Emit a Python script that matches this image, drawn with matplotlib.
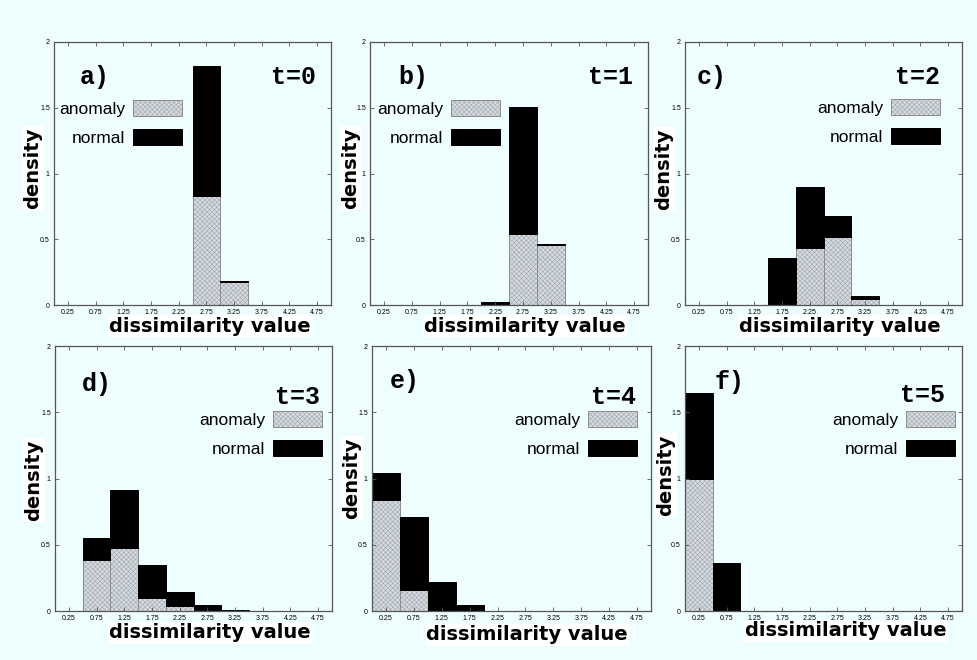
import matplotlib
matplotlib.use("Agg")
import matplotlib.pyplot as plt
from matplotlib import font_manager

# bin centres of the histograms (bin width 0.5)
bins = [0.25, 0.75, 1.25, 1.75, 2.25, 2.75, 3.25, 3.75, 4.25, 4.75]
bin_labels = ["0.25", "0.75", "1.25", "1.75", "2.25", "2.75", "3.25", "3.75", "4.25", "4.75"]
y_ticks = [0, 0.5, 1, 1.5, 2]
y_labels = ["0", "0.5", "1", "1.5", "2"]

panels = ["a)", "b)", "c)", "d)", "e)", "f)"]
times = ["t=0", "t=1", "t=2", "t=3", "t=4", "t=5"]

# anomaly part (bottom) and normal part (stacked on top) per time step
anomaly_t0 = [0, 0, 0, 0, 0, 0.83, 0.175, 0, 0, 0]
normal_t0 = [0, 0, 0, 0, 0, 0.99, 0.005, 0, 0, 0]
anomaly_t1 = [0, 0, 0, 0, 0, 0.54, 0.46, 0, 0, 0]
normal_t1 = [0, 0, 0, 0, 0.02, 0.965, 0.004, 0, 0, 0]
anomaly_t2 = [0, 0, 0, 0, 0.435, 0.52, 0.045, 0, 0, 0]
normal_t2 = [0, 0, 0.003, 0.355, 0.465, 0.16, 0.025, 0, 0, 0]
anomaly_t3 = [0, 0.385, 0.475, 0.095, 0.035, 0.005, 0, 0, 0, 0]
normal_t3 = [0, 0.165, 0.435, 0.255, 0.105, 0.04, 0.005, 0, 0, 0]
anomaly_t4 = [0.84, 0.16, 0, 0, 0, 0, 0, 0, 0, 0]
normal_t4 = [0.2, 0.55, 0.22, 0.045, 0, 0, 0, 0, 0, 0]
anomaly_t5 = [1.0, 0, 0, 0, 0, 0, 0, 0, 0, 0]
normal_t5 = [0.645, 0.36, 0, 0, 0, 0, 0, 0, 0, 0]

anomaly = [anomaly_t0, anomaly_t1, anomaly_t2, anomaly_t3, anomaly_t4, anomaly_t5]
normal = [normal_t0, normal_t1, normal_t2, normal_t3, normal_t4, normal_t5]

# layout, in pixels of the 977x660 picture
W, H = 977, 660
BG = "#eefefe"
boxes = [(54, 42, 331, 305), (370, 42, 648, 305), (685, 42, 962, 305),
         (55, 346, 332, 611), (372, 346, 651, 611), (685, 346, 962, 611)]
letter_pos = [(80, 77), (398, 77), (697, 77), (82, 384), (390, 381), (715, 382)]
time_pos = [(316, 77), (633, 77), (940, 77), (320, 397), (636, 397), (945, 395)]
legend_pos = [(182, 100), (500, 100), (940, 99), (322, 411), (637, 411), (955, 411)]
ylab_pos = [(33, 168), (351, 168), (664, 169), (34, 480), (352, 478), (666, 475)]
xlab_pos = [(210, 326), (525, 326), (840, 326), (210, 633), (527, 635), (846, 631)]

names = {f.name for f in font_manager.fontManager.ttflist}
narrow = "Liberation Sans Narrow" if "Liberation Sans Narrow" in names else "Liberation Sans"

plt.rcParams["hatch.linewidth"] = 0.25
plt.rcParams["hatch.color"] = "#a0a8b0"

fig = plt.figure(figsize=(W / 100, H / 100), dpi=100, facecolor=BG)


def to_axes(box, x, y):
    l, t, r, b = box
    return (x - l) / (r - l), (b - y) / (b - t)


for i in range(6):
    l, t, r, b = boxes[i]
    ax = fig.add_axes([l / W, 1 - b / H, (r - l) / W, (b - t) / H])
    ax.set_facecolor(BG)

    an = ax.bar(bins, anomaly[i], width=0.5, color="#d3dae2", edgecolor="#8c8c8c",
                linewidth=0.7, hatch="xxxxxxx", label="anomaly")
    no = ax.bar(bins, normal[i], width=0.5, bottom=anomaly[i], color="black",
                edgecolor="black", linewidth=0.7, label="normal")

    ax.set_xlim(0, 5)
    ax.set_ylim(0, 2)
    ax.set_xticks(bins)
    ax.set_xticklabels(bin_labels, fontsize=5, family=narrow)
    ax.set_yticks(y_ticks)
    ax.set_yticklabels(y_labels, fontsize=5, family=narrow)
    ax.tick_params(direction="in", length=3, width=0.6, color="#555555",
                   top=True, right=True, pad=3)
    for s in ax.spines.values():
        s.set_color("#555555")
        s.set_linewidth(0.9)

    ax.set_ylabel("density", fontsize=14, fontweight="bold", family="DejaVu Sans",
                  va="center", ha="center",
                  bbox=dict(facecolor="white", edgecolor="none", pad=1))
    ax.yaxis.set_label_coords(*to_axes(boxes[i], *ylab_pos[i]))
    ax.set_xlabel("dissimilarity value", fontsize=14, fontweight="bold",
                  family="DejaVu Sans", va="center", ha="center",
                  bbox=dict(facecolor="white", edgecolor="none", pad=1))
    ax.xaxis.set_label_coords(*to_axes(boxes[i], *xlab_pos[i]))

    ax.text(*to_axes(boxes[i], *letter_pos[i]), panels[i], transform=ax.transAxes,
            ha="left", va="center", fontsize=18, fontweight="bold",
            family="Liberation Mono")
    ax.text(*to_axes(boxes[i], *time_pos[i]), times[i], transform=ax.transAxes,
            ha="right", va="center", fontsize=18, fontweight="bold",
            family="Liberation Mono")

    ax.legend(handles=[an, no], loc="upper right",
              bbox_to_anchor=to_axes(boxes[i], *legend_pos[i]),
              frameon=False, markerfirst=False, prop={"family": narrow, "size": 12.5},
              handlelength=2.8, handleheight=1.05, handletextpad=0.45,
              labelspacing=0.7, borderpad=0, borderaxespad=0)

fig.savefig("out.png", dpi=100, facecolor=BG)
